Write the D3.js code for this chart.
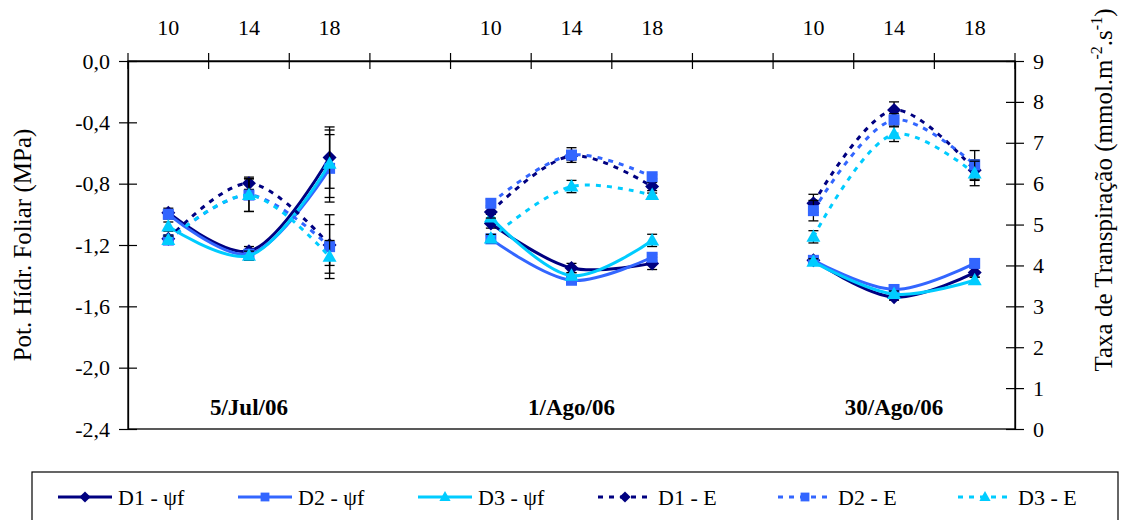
<!DOCTYPE html>
<html>
<head>
<meta charset="utf-8">
<script src="https://cdn.jsdelivr.net/npm/d3@7"></script>
<style>
body { margin: 0; background: #fff; }
text { font-family: "Liberation Serif", "Times New Roman", serif; fill: #000; }
</style>
</head>
<body>
<div id="chart"></div>
<script>
// top axis: hour of measurement, an empty slot separates the days
var hourLabels = ["10", "14", "18", "", "10", "14", "18", "", "10", "14", "18"];
var dayLabels = ["5/Jul/06", "1/Ago/06", "30/Ago/06"];
// slot on the top axis of each of the 9 observations (3 days x 3 hours)
var obsSlot = [0, 1, 2, 4, 5, 6, 8, 9, 10];

var psiTicks = [0, -0.4, -0.8, -1.2, -1.6, -2.0, -2.4];
var eTicks = [0, 1, 2, 3, 4, 5, 6, 7, 8, 9];

// leaf water potential (MPa)
var psiD1 = [-0.99, -1.24, -0.63, -1.06, -1.35, -1.32, -1.30, -1.54, -1.38];
var psiD2 = [-1.00, -1.26, -0.70, -1.16, -1.43, -1.28, -1.30, -1.49, -1.32];
var psiD3 = [-1.08, -1.27, -0.67, -1.02, -1.40, -1.17, -1.31, -1.52, -1.43];
var psiErrD1 = [0.03, 0.03, 0.20, 0.03, 0.03, 0.04, 0.02, 0.02, 0.03];
var psiErrD2 = [0.03, 0.02, 0.22, 0.02, 0.02, 0.02, 0.02, 0.02, 0.02];
var psiErrD3 = [0.03, 0.03, 0.22, 0.02, 0.02, 0.04, 0.02, 0.02, 0.02];

// transpiration rate (mmol.m-2.s-1)
var eD1 = [4.65, 6.01, 4.50, 5.31, 6.68, 5.93, 5.52, 7.80, 6.33];
var eD2 = [4.62, 5.72, 4.46, 5.52, 6.70, 6.17, 5.34, 7.56, 6.46];
var eD3 = [4.62, 5.72, 4.21, 4.66, 5.93, 5.72, 4.70, 7.21, 6.25];
var eErrD1 = [0.10, 0.15, 0.50, 0.15, 0.10, 0.10, 0.22, 0.20, 0.25];
var eErrD2 = [0.10, 0.40, 0.78, 0.10, 0.18, 0.05, 0.25, 0.15, 0.35];
var eErrD3 = [0.10, 0.40, 0.40, 0.10, 0.15, 0.05, 0.15, 0.18, 0.30];

var seriesNames = ["D1 - \u03c8f", "D2 - \u03c8f", "D3 - \u03c8f", "D1 - E", "D2 - E", "D3 - E"];
var seriesColors = ["#000080", "#3366ff", "#00ccff", "#000080", "#3366ff", "#00ccff"];

var W = 1122, H = 520;
var plot = { left: 128, right: 1015, top: 61, bottom: 429 };

var svg = d3.select("#chart").append("svg")
	.attr("width", W)
	.attr("height", H);

var x = d3.scaleBand()
	.domain(d3.range(hourLabels.length))
	.range([plot.left, plot.right]);
var yL = d3.scaleLinear().domain([-2.4, 0]).range([plot.bottom, plot.top]);
var yR = d3.scaleLinear().domain([0, 9]).range([plot.bottom, plot.top]);

var locale = d3.formatLocale({ decimal: ",", thousands: ".", grouping: [3], currency: ["", ""], minus: "-" });
var fmt = locale.format(".1f");

function cx(k) { return x(obsSlot[k]) + x.bandwidth() / 2; }

// plot frame
svg.append("rect")
	.attr("x", plot.left).attr("y", plot.top)
	.attr("width", plot.right - plot.left).attr("height", plot.bottom - plot.top)
	.attr("fill", "none").attr("stroke", "#000").attr("stroke-width", 1.3);

function styleAxis(g) {
	g.select(".domain").attr("stroke", "#000").attr("stroke-width", 1.3);
	g.selectAll(".tick line").attr("stroke", "#000").attr("stroke-width", 1.2);
	g.selectAll(".tick text").attr("font-size", 22).attr("font-family", "Liberation Serif, serif");
}

// left axis, ticks cross the line
svg.append("g")
	.attr("transform", "translate(" + plot.left + ",0)")
	.call(d3.axisLeft(yL).tickValues(psiTicks).tickFormat(fmt).tickSize(9).tickPadding(9).tickSizeOuter(0))
	.call(styleAxis)
	.call(function(g) { g.selectAll(".tick line").attr("x1", 9); });

// right axis
svg.append("g")
	.attr("transform", "translate(" + plot.right + ",0)")
	.call(d3.axisRight(yR).tickValues(eTicks).tickFormat(d3.format("d")).tickSize(9).tickPadding(9).tickSizeOuter(0))
	.call(styleAxis)
	.call(function(g) { g.selectAll(".tick line").attr("x1", -9); });

// top axis: labels at slot centres, tick marks at slot edges
svg.append("g")
	.attr("transform", "translate(0," + plot.top + ")")
	.call(d3.axisTop(x).tickFormat(function(i) { return hourLabels[i]; }).tickSize(0).tickPadding(26).tickSizeOuter(0))
	.call(styleAxis);

var edges = x.domain().map(function(i) { return x(i); }).concat([plot.right]);
svg.append("g").selectAll("line").data(edges).enter()
	.append("line")
	.attr("x1", function(d) { return d; }).attr("x2", function(d) { return d; })
	.attr("y1", plot.top - 8).attr("y2", plot.top + 8)
	.attr("stroke", "#000").attr("stroke-width", 1.2);

// axis titles
svg.append("text")
	.attr("transform", "translate(31," + ((plot.top + plot.bottom) / 2) + ") rotate(-90)")
	.attr("text-anchor", "middle")
	.attr("font-size", 25)
	.text("Pot. H\u00eddr. Foliar (MPa)");

var rt = svg.append("text")
	.attr("transform", "translate(1112,190) rotate(-90)")
	.attr("text-anchor", "middle")
	.attr("font-size", 25);
rt.append("tspan").text("Taxa de Transpira\u00e7\u00e3o (mmol.m");
rt.append("tspan").attr("dy", -10).attr("font-size", 16).text("-2");
rt.append("tspan").attr("dy", 10).text(".s");
rt.append("tspan").attr("dy", -10).attr("font-size", 16).text("-1");
rt.append("tspan").attr("dy", 10).text(")");

// day labels
svg.selectAll(".day").data(dayLabels).enter()
	.append("text")
	.attr("class", "day")
	.attr("x", function(d, i) { return cx(i * 3 + 1); })
	.attr("y", 415)
	.attr("text-anchor", "middle")
	.attr("font-size", 23)
	.attr("font-weight", "bold")
	.text(function(d) { return d; });

// markers
var shapes = {
	diamond: "M0,-7L7,0L0,7L-7,0Z",
	square: "M-5.5,-5.5h11v11h-11z",
	triangle: "M0,-7.5L7,5L-7,5Z"
};
var shapeOf = ["diamond", "square", "triangle", "diamond", "square", "triangle"];

var series = [
	{ values: psiD1, err: psiErrD1, y: yL, dashed: false },
	{ values: psiD2, err: psiErrD2, y: yL, dashed: false },
	{ values: psiD3, err: psiErrD3, y: yL, dashed: false },
	{ values: eD1, err: eErrD1, y: yR, dashed: true },
	{ values: eD2, err: eErrD2, y: yR, dashed: true },
	{ values: eD3, err: eErrD3, y: yR, dashed: true }
];

var line = d3.line().curve(d3.curveCatmullRom.alpha(0.5));

series.forEach(function(s, si) {
	var g = svg.append("g");
	var color = seriesColors[si];

	// one smoothed line per day
	d3.range(3).forEach(function(day) {
		var pts = d3.range(3).map(function(h) {
			var k = day * 3 + h;
			return [cx(k), s.y(s.values[k])];
		});
		g.append("path")
			.attr("d", line(pts))
			.attr("fill", "none")
			.attr("stroke", color)
			.attr("stroke-width", s.dashed ? 3 : 3)
			.attr("stroke-dasharray", s.dashed ? "5,6" : null);
	});

	// error bars
	var eb = g.selectAll(".err").data(s.values).enter().append("g").attr("class", "err");
	eb.append("line")
		.attr("x1", function(d, k) { return cx(k); }).attr("x2", function(d, k) { return cx(k); })
		.attr("y1", function(d, k) { return s.y(d - s.err[k]); })
		.attr("y2", function(d, k) { return s.y(d + s.err[k]); })
		.attr("stroke", "#000").attr("stroke-width", 1.3);
	[-1, 1].forEach(function(sg) {
		eb.append("line")
			.attr("x1", function(d, k) { return cx(k) - 5; }).attr("x2", function(d, k) { return cx(k) + 5; })
			.attr("y1", function(d, k) { return s.y(d + sg * s.err[k]); })
			.attr("y2", function(d, k) { return s.y(d + sg * s.err[k]); })
			.attr("stroke", "#000").attr("stroke-width", 1.3);
	});

	g.selectAll(".mk").data(s.values).enter()
		.append("path")
		.attr("class", "mk")
		.attr("d", shapes[shapeOf[si]])
		.attr("transform", function(d, k) { return "translate(" + cx(k) + "," + s.y(d) + ")"; })
		.attr("fill", color);
});

// legend
var lg = svg.append("g");
lg.append("rect")
	.attr("x", 32).attr("y", 472).attr("width", 1086).attr("height", 60)
	.attr("fill", "#fff").attr("stroke", "#000").attr("stroke-width", 1.2);

var items = lg.selectAll(".item").data(seriesNames).enter()
	.append("g")
	.attr("class", "item")
	.attr("transform", function(d, i) { return "translate(" + (58 + i * 180) + ",497)"; });
items.append("line")
	.attr("x1", 0).attr("x2", 54)
	.attr("stroke", function(d, i) { return seriesColors[i]; })
	.attr("stroke-width", 3)
	.attr("stroke-dasharray", function(d, i) { return series[i].dashed ? "5,6" : null; });
items.append("path")
	.attr("d", function(d, i) { return shapes[shapeOf[i]]; })
	.attr("transform", "translate(27,0) scale(0.8)")
	.attr("fill", function(d, i) { return seriesColors[i]; });
items.append("text")
	.attr("x", 60)
	.attr("dy", "0.35em")
	.attr("font-size", 22)
	.text(function(d) { return d; });
</script>
</body>
</html>
